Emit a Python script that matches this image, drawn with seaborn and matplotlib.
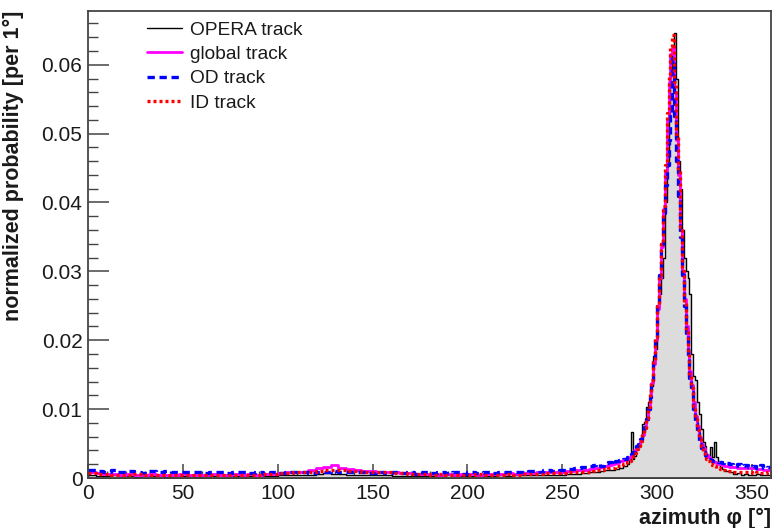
import numpy as np
import pandas as pd
import matplotlib
matplotlib.use("Agg")
import matplotlib.pyplot as plt
from matplotlib.lines import Line2D
from matplotlib.ticker import MultipleLocator, FuncFormatter
import seaborn as sns

# Azimuth bin edges: coarse in the flat region, 1 degree around the peak
edges_flat = np.arange(0, 268, 4)        # 0..264, 4-degree bins
edges_rise = np.arange(266, 286, 2)      # 264..284, 2-degree bins
edges_peak = np.arange(285, 337, 1)      # 284..336, 1-degree bins
edges_tail = np.arange(338, 362, 2)      # 336..360, 2-degree bins

# Normalized probability per bin, in units of 1e-3
opera_flat = [0.4, 0.3, 0.3, 0.4, 0.3, 0.3, 0.2, 0.3, 0.3, 0.3,
              0.2, 0.3, 0.3, 0.3, 0.2, 0.3, 0.3, 0.4, 0.3, 0.3,
              0.3, 0.3, 0.4, 0.3, 0.3, 0.4, 0.4, 0.4, 0.5, 0.5,
              0.6, 0.7, 0.6, 0.6, 0.5, 0.5, 0.5, 0.4, 0.4, 0.4,
              0.3, 0.3, 0.3, 0.3, 0.3, 0.3, 0.3, 0.4, 0.3, 0.3,
              0.3, 0.3, 0.3, 0.3, 0.4, 0.3, 0.4, 0.4, 0.4, 0.5,
              0.5, 0.5, 0.5, 0.6, 0.6, 0.7]
opera_rise = [0.8, 0.9, 0.8, 1.0, 1.1, 1.2, 1.1, 1.3, 1.5, 1.8]
opera_peak = [2.0, 2.6, 6.7, 2.8, 3.2, 4.7, 5.0, 5.2, 7.8, 8.2,
              10.3, 11.0, 12.9, 13.3, 17.7, 18.7, 24.5, 26.7, 29.0, 32.0,
              40.0, 46.0, 53.0, 59.0, 61.5, 64.6, 58.0, 46.0, 42.0, 36.0,
              32.0, 30.0, 29.0, 26.7, 18.0, 14.8, 14.3, 11.0, 9.3, 7.1,
              5.2, 4.6, 3.5, 3.0, 4.5, 3.0, 5.2, 3.0, 2.0, 1.6,
              1.3, 1.1]
opera_tail = [1.0, 0.8, 0.6, 0.7, 0.5, 0.6, 0.4, 0.5, 0.6, 0.4, 0.5, 0.5]

global_flat = [0.8, 0.7, 0.6, 0.6, 0.5, 0.6, 0.5, 0.5, 0.6, 0.4,
               0.5, 0.5, 0.6, 0.5, 0.5, 0.5, 0.6, 0.5, 0.5, 0.6,
               0.5, 0.6, 0.5, 0.6, 0.6, 0.7, 0.8, 0.8, 0.9, 1.1,
               1.4, 1.6, 1.9, 1.5, 1.3, 1.2, 1.0, 1.0, 0.9, 0.8,
               0.8, 0.7, 0.7, 0.6, 0.6, 0.6, 0.5, 0.6, 0.5, 0.6,
               0.6, 0.5, 0.6, 0.6, 0.6, 0.7, 0.6, 0.7, 0.7, 0.8,
               0.8, 0.9, 0.9, 1.0, 1.1, 1.2]
global_rise = [1.3, 1.4, 1.5, 1.6, 1.7, 1.9, 2.0, 2.2, 2.4, 2.6]
global_peak = [2.8, 3.0, 3.3, 3.6, 4.0, 4.4, 4.8, 5.3, 6.2, 7.2,
               8.5, 10.0, 11.8, 13.8, 16.5, 20.0, 24.5, 29.0, 33.5, 39.0,
               44.5, 52.0, 57.5, 61.5, 62.5, 56.0, 49.0, 44.0, 36.0, 30.0,
               26.0, 22.0, 18.5, 15.5, 13.5, 11.0, 9.0, 7.5, 6.0, 5.0,
               4.3, 3.7, 3.3, 3.0, 2.7, 2.5, 2.3, 2.2, 2.1, 2.0,
               1.9, 1.8]
global_tail = [1.7, 1.6, 1.6, 1.5, 1.5, 1.4, 1.4, 1.4, 1.3, 1.3, 1.2, 1.2]

od_flat = [1.2, 1.0, 0.9, 1.1, 0.8, 1.0, 0.9, 0.7, 1.0, 0.8,
           1.0, 0.8, 0.9, 0.8, 0.9, 0.7, 0.8, 0.9, 0.7, 0.8,
           0.9, 0.7, 0.8, 0.6, 0.8, 0.7, 0.8, 0.9, 0.8, 0.7,
           0.9, 0.8, 1.0, 0.8, 0.9, 0.8, 0.9, 0.7, 0.8, 0.7,
           0.8, 0.7, 0.8, 0.6, 0.8, 0.7, 0.9, 0.7, 0.8, 0.6,
           0.8, 0.7, 0.8, 0.7, 0.9, 0.8, 0.9, 0.8, 1.0, 0.9,
           1.1, 1.0, 1.2, 1.3, 1.4, 1.6]
od_rise = [1.7, 1.9, 2.0, 1.8, 2.2, 2.3, 2.1, 2.5, 2.6, 2.8]
od_peak = [3.0, 3.3, 3.5, 3.8, 4.2, 4.6, 5.0, 5.6, 6.4, 7.4,
           8.6, 10.0, 11.8, 14.0, 16.8, 20.5, 25.0, 29.5, 34.0, 38.5,
           42.5, 45.5, 49.0, 52.5, 61.0, 52.5, 46.0, 41.0, 35.0, 29.5,
           25.0, 21.0, 17.5, 14.5, 12.5, 10.0, 8.0, 6.5, 5.0, 4.3,
           3.8, 3.4, 3.1, 2.8, 2.6, 2.5, 2.4, 2.4, 2.3, 2.3,
           2.2, 2.3]
od_tail = [2.2, 2.0, 1.8, 2.1, 1.7, 1.9, 1.6, 1.8, 1.5, 1.9, 1.4, 1.6]

id_flat = [0.7, 0.6, 0.6, 0.5, 0.5, 0.5, 0.6, 0.5, 0.4, 0.5,
           0.5, 0.4, 0.5, 0.5, 0.4, 0.5, 0.4, 0.5, 0.5, 0.4,
           0.5, 0.5, 0.5, 0.6, 0.6, 0.7, 0.7, 0.8, 0.8, 0.9,
           1.0, 1.1, 1.2, 1.1, 1.0, 1.0, 0.9, 0.9, 0.8, 0.8,
           0.7, 0.7, 0.6, 0.6, 0.6, 0.5, 0.6, 0.5, 0.5, 0.5,
           0.5, 0.6, 0.5, 0.5, 0.5, 0.6, 0.5, 0.6, 0.6, 0.6,
           0.7, 0.7, 0.7, 0.8, 0.8, 0.9]
id_rise = [0.9, 1.0, 1.1, 1.2, 1.3, 1.4, 1.5, 1.7, 1.8, 2.0]
id_peak = [2.3, 2.5, 2.8, 3.2, 3.7, 4.2, 4.7, 5.3, 6.2, 7.3,
           8.7, 10.3, 12.2, 14.3, 17.0, 20.5, 25.0, 29.5, 34.0, 39.5,
           45.5, 53.0, 58.5, 62.5, 64.3, 57.5, 50.0, 44.5, 36.5, 30.0,
           25.5, 21.5, 18.0, 15.0, 13.0, 10.5, 8.6, 7.0, 5.6, 4.6,
           3.9, 3.3, 2.8, 2.4, 2.1, 1.9, 1.7, 1.5, 1.4, 1.3,
           1.2, 1.1]
id_tail = [1.0, 1.0, 0.9, 0.9, 0.8, 0.8, 0.8, 0.7, 0.8, 0.7, 0.7, 0.8]

SCALE = 1e-3

edges = np.concatenate([[0], edges_flat[1:], edges_rise, edges_peak, edges_tail]).astype(float)
centers = 0.5 * (edges[:-1] + edges[1:])


def series(*parts):
    vals = np.concatenate([np.asarray(p, float) for p in parts]) * SCALE
    assert len(vals) == len(centers), (len(vals), len(centers))
    return vals


df = pd.DataFrame({
    "azimuth": centers,
    "opera": series(opera_flat, opera_rise, opera_peak, opera_tail),
    "global": series(global_flat, global_rise, global_peak, global_tail),
    "od": series(od_flat, od_rise, od_peak, od_tail),
    "id": series(id_flat, id_rise, id_peak, id_tail),
})
bin_list = edges.tolist()

sns.set_style("ticks")
plt.rcParams["font.family"] = ["Liberation Sans", "DejaVu Sans"]
plt.rcParams["axes.linewidth"] = 1.3
plt.rcParams["axes.edgecolor"] = "#444444"

fig = plt.figure(figsize=(7.72, 5.28), dpi=100)
ax = fig.add_axes([88 / 772, 50 / 528, 683 / 772, 467 / 528])

sns.histplot(data=df, x="azimuth", weights="opera", bins=bin_list, element="step",
             fill=True, color="#dcdcdc", alpha=1, edgecolor="black", linewidth=1.0, ax=ax)
sns.histplot(data=df, x="azimuth", weights="global", bins=bin_list, element="step",
             fill=False, color="#ff00ff", linewidth=2.0, ax=ax)
sns.histplot(data=df, x="azimuth", weights="od", bins=bin_list, element="step",
             fill=False, color="#0000ff", linewidth=2.4, linestyle=(0, (2.2, 1.4)), ax=ax)
sns.histplot(data=df, x="azimuth", weights="id", bins=bin_list, element="step",
             fill=False, color="#ff0000", linewidth=2.4, linestyle=(0, (0.9, 0.9)), ax=ax)

ax.set_xlim(0, 360)
ax.set_ylim(0, 0.0678)

ax.xaxis.set_major_locator(MultipleLocator(50))
ax.xaxis.set_minor_locator(MultipleLocator(10))
ax.yaxis.set_major_locator(MultipleLocator(0.01))
ax.yaxis.set_minor_locator(MultipleLocator(0.002))
ax.yaxis.set_major_formatter(FuncFormatter(lambda v, p: "0" if abs(v) < 1e-9 else f"{v:.2f}"))

ax.tick_params(axis="both", which="both", direction="in", color="#444444",
               labelcolor="#1a1a1a", top=False, right=False)
ax.tick_params(axis="x", which="major", length=10, width=1.1, labelsize=15, pad=4)
ax.tick_params(axis="x", which="minor", length=5, width=1.0)
ax.tick_params(axis="y", which="major", length=15, width=1.1, labelsize=15, pad=4)
ax.tick_params(axis="y", which="minor", length=7, width=1.0)

ax.set_xlabel("azimuth φ [°]", fontsize=15.5, fontweight="bold", loc="right",
              color="#1a1a1a")
ax.set_ylabel("normalized probability [per 1°]", fontsize=15.5, fontweight="bold",
              loc="top", color="#1a1a1a")
ax.xaxis.set_label_coords(1.0, -0.064)
ax.yaxis.set_label_coords(-0.093, 1.0)

handles = [
    Line2D([], [], color="black", linewidth=1.0),
    Line2D([], [], color="#ff00ff", linewidth=2.0),
    Line2D([], [], color="#0000ff", linewidth=2.4, linestyle=(0, (2.2, 1.4))),
    Line2D([], [], color="#ff0000", linewidth=2.4, linestyle=(0, (0.9, 0.9))),
]
labels = ["OPERA track", "global track", "OD track", "ID track"]
leg = ax.legend(handles, labels, loc="upper left", bbox_to_anchor=(0.0864, 0.978),
                bbox_transform=ax.transAxes, frameon=False, fontsize=13.8,
                handlelength=1.82, handletextpad=0.42, labelspacing=0.36,
                borderpad=0, borderaxespad=0)
for t in leg.get_texts():
    t.set_color("#1a1a1a")

fig.savefig("out.png", dpi=100)
